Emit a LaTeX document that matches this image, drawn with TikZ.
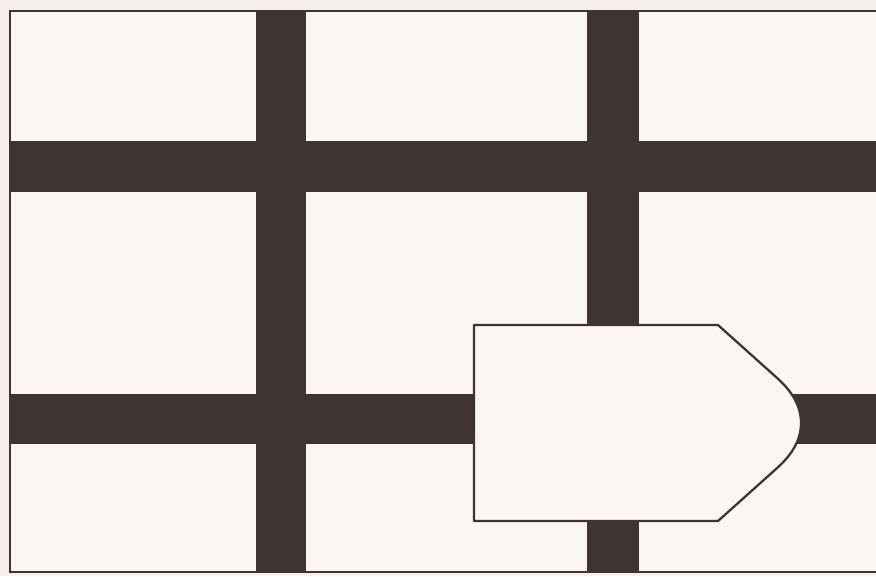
\documentclass[tikz,border=0pt]{standalone}
\usepackage{tikz}
\usepackage{xcolor}
\definecolor{paper}{RGB}{251,245,243}
\definecolor{margin}{RGB}{246,239,236}
\definecolor{street}{RGB}{62,52,50}
\tikzset{
  streetbar/.style={fill=street},
  frameline/.style={draw=street, line width=1.2pt},
  signpost/.style={fill=paper, draw=street, line width=1.3pt, line join=round}
}
\begin{document}
\begin{tikzpicture}[x=0.02cm, y=-0.02cm]

		\useasboundingbox (0,0) rectangle (876,576);
		\fill[margin] (0,0) rectangle (876,576);

		% town blocks
		\fill[paper] (10,11) rectangle (880,572);

		% streets
		\foreach \x/\w in {256/50, 587/52}
		{
			\fill[streetbar] (\x,11) rectangle (\x+\w,572);
		}
		\foreach \y/\h in {141/51, 394/50}
		{
			\fill[streetbar] (10,\y) rectangle (880,\y+\h);
		}

		\draw[frameline] (10,11) rectangle (880,572);

		% sign
		\draw[signpost] (474,325) -- (718,325) -- (776,377)
			.. controls (792,391) and (801,406) .. (801,423)
			.. controls (801,440) and (792,455) .. (776,469)
			-- (718,521) -- (474,521) -- cycle;

	\end{tikzpicture}
\end{document}
